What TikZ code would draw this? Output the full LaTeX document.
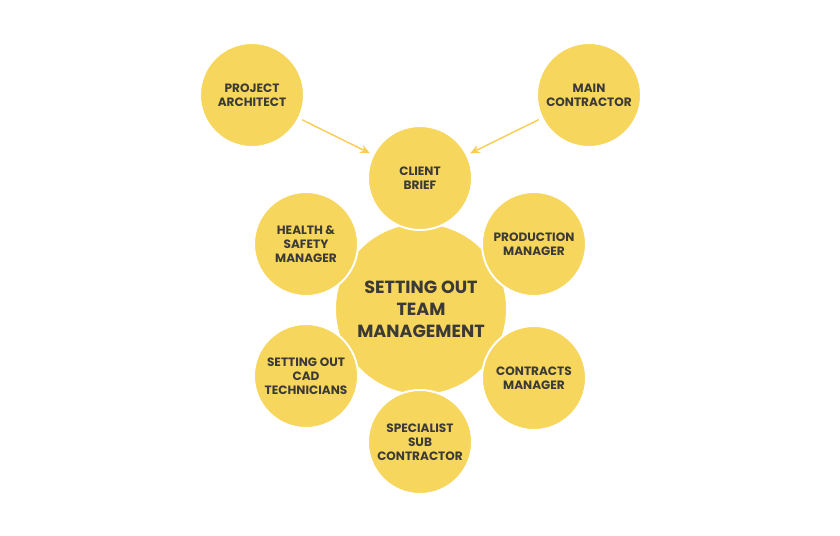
\documentclass[tikz,border=0pt]{standalone}
\usepackage{fontspec}
\setmainfont{Poppins}
\usetikzlibrary{positioning, arrows.meta}

\definecolor{sunny}{RGB}{246,214,92}
\definecolor{ink}{RGB}{60,58,54}

\tikzset{
  bubble/.style={circle, fill=sunny, draw=white, line width=1.4pt, minimum size=2.6cm, inner sep=0pt, align=center, text=ink, font=\bfseries\fontsize{8.6}{10}\selectfont},
  big bubble/.style={bubble, minimum size=4.3cm, font=\bfseries\fontsize{12.5}{15.5}\selectfont}
}

\begin{document}
\begin{tikzpicture}[x=0.025cm, y=-0.025cm]
  \useasboundingbox (0,0) rectangle (840,536);

  \node[big bubble] (team) at (421,309) {SETTING OUT\\TEAM\\MANAGEMENT};

  \node[bubble] (client brief) at (420,178) {CLIENT\\BRIEF};
  \node[bubble] (health) at (306,244) {HEALTH \&\\SAFETY\\MANAGER};
  \node[bubble] (production) at (534,244) {PRODUCTION\\MANAGER};
  \node[bubble] (cad) at (306,376) {SETTING OUT\\CAD\\TECHNICIANS};
  \node[bubble] (contracts) at (534,378) {CONTRACTS\\MANAGER};
  \node[bubble] (specialist) at (420,442) {SPECIALIST\\SUB\\CONTRACTOR};

  \node[bubble] (architect) at (252,95) {PROJECT\\ARCHITECT};
  \node[bubble] (main contractor) at (589,95) {MAIN\\CONTRACTOR};

  \draw[-{Stealth[length=7pt, width=6pt]}, sunny!90!orange, line width=1pt, shorten <=2pt, shorten >=2pt]
    (architect) edge (client brief)
    (main contractor) edge (client brief);
\end{tikzpicture}
\end{document}
